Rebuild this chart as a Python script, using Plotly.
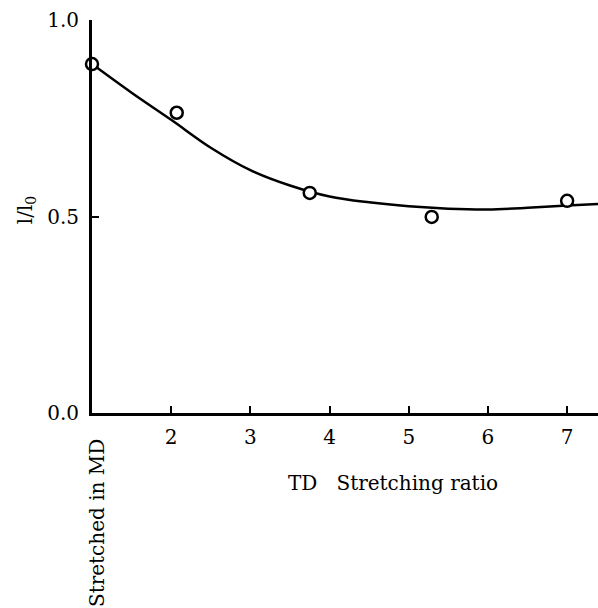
import plotly.graph_objects as go

# measured points
pt_x = [1.0, 2.07, 3.75, 5.29, 7.0]
pt_y = [0.888, 0.764, 0.56, 0.499, 0.54]

# fitted curve
curve_x = [1.0, 1.5, 2.0, 2.5, 3.0, 3.5, 4.0, 4.5, 5.0, 5.5, 6.0, 6.5, 7.0, 7.39]
curve_y = [0.888, 0.815, 0.746, 0.675, 0.618, 0.579, 0.551, 0.536, 0.526, 0.52, 0.518, 0.522, 0.528, 0.532]

x_ticks = [2, 3, 4, 5, 6, 7]
y_ticks = [0.0, 0.5, 1.0]

FONT = "DejaVu Serif"

fig = go.Figure()
fig.add_trace(go.Scatter(x=curve_x, y=curve_y, mode="lines",
                         line=dict(color="black", width=2.5, shape="spline", smoothing=1.0),
                         hoverinfo="skip", showlegend=False))
fig.add_trace(go.Scatter(x=pt_x, y=pt_y, mode="markers",
                         marker=dict(symbol="circle", size=12, color="white",
                                     line=dict(color="black", width=2.5)),
                         cliponaxis=False, showlegend=False))

fig.update_layout(
    width=598, height=608,
    margin=dict(l=92, r=0, t=20, b=195),
    plot_bgcolor="white", paper_bgcolor="white",
    font=dict(family=FONT, size=20, color="black"),
    xaxis=dict(range=[1, 7.39], showgrid=False, zeroline=False,
               showline=True, linecolor="black", linewidth=3,
               tickvals=x_ticks, ticktext=[str(v) for v in x_ticks],
               ticks="inside", ticklen=7, tickwidth=2, tickcolor="black",
               ticklabelstandoff=4,
               tickfont=dict(family=FONT, size=20)),
    yaxis=dict(range=[0, 1.0], showgrid=False, zeroline=False,
               showline=True, linecolor="black", linewidth=3,
               tickvals=y_ticks, ticktext=["0.0", "0.5", "1.0"],
               ticks="inside", ticklen=7, tickwidth=2, tickcolor="black",
               ticklabelstandoff=6,
               tickfont=dict(family=FONT, size=20)),
    annotations=[
        dict(text="TD&nbsp;&nbsp;&nbsp;Stretching&nbsp;ratio", xref="paper", yref="paper",
             x=0.595, y=-0.178, xanchor="center", yanchor="middle",
             showarrow=False, font=dict(family=FONT, size=20)),
        dict(text="Stretched&nbsp;in&nbsp;MD", xref="paper", yref="paper",
             x=0.0099, y=-0.28, xanchor="center", yanchor="middle",
             textangle=-90, showarrow=False, font=dict(family=FONT, size=20)),
        dict(text="l/l<sub>0</sub>", xref="paper", yref="paper",
             x=-0.130, y=0.5165, xanchor="center", yanchor="middle",
             textangle=-90, showarrow=False, font=dict(family=FONT, size=20)),
    ],
)

fig.write_html("out.html")
